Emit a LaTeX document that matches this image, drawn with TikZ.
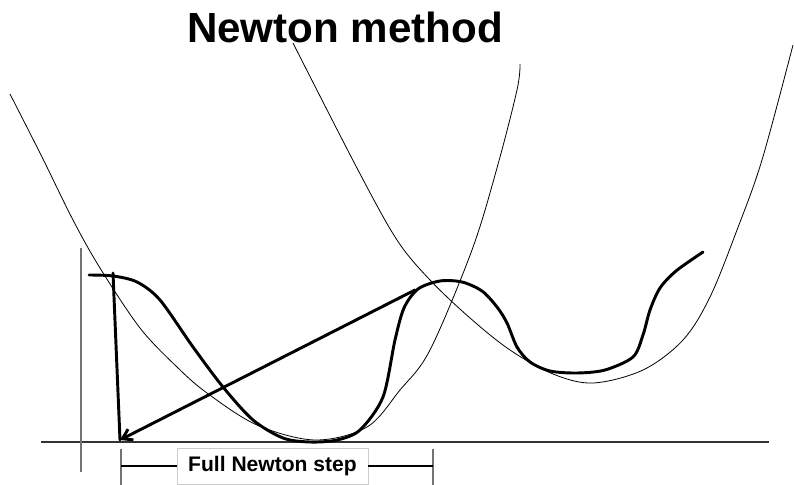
\documentclass[tikz,border=0pt]{standalone}
\usepackage{fontspec}
\setmainfont{Liberation Sans}
\usetikzlibrary{arrows.meta,positioning}

\begin{document}
\begin{tikzpicture}[x=0.75pt,y=-0.75pt,
  guess/.style={black,line width=0.6pt},
  func/.style={black,line width=2.2pt,line cap=round,line join=round},
  axis/.style={black!80,line width=0.8pt},
  tick/.style={black!55,line width=1pt},
  steplabel/.style={draw=black!20,fill=white,inner sep=0pt,minimum width=143pt,minimum height=27pt,font=\bfseries\fontsize{15.8}{18}\selectfont}]
\useasboundingbox (0,0) rectangle (794,485);
% Title
\node[anchor=base,font=\bfseries\fontsize{31.6}{36}\selectfont] (title) at (345,43) {Newton method};

% Axes
\coordinate (xa) at (41,442);
\coordinate (xb) at (769,442);
\coordinate (ya) at (81,248);
\coordinate (yb) at (81,472);
\draw[axis] (xa) -- (xb);
\draw[tick] (ya) -- (yb);

% Quadratic models
\draw[guess] plot[smooth,tension=0.55] coordinates {(10,94) (42,157) (73,220) (100,268) (140,328) (177,367) (207,393) (257,425) (315,440) (367,427) (400,390) (430,350) (472,250) (497,168) (517,90) (520,64)};
\draw[guess] plot[smooth,tension=0.55] coordinates {(293,43) (358,170) (397,240) (430,280) (470,318) (510,350) (553,374) (593,383) (643,370) (683,340) (710,297) (737,230) (762,160) (793,45)};

% Function
\draw[func] plot[smooth,tension=0.5] coordinates {(89,275) (113,276) (137,282) (160,300) (193,347) (223,387) (253,420) (283,438) (310,442) (337,440) (360,430) (383,397) (395,340) (404,308) (418,289) (440,281) (462,282) (482,291) (497,307) (507,323) (517,347) (530,362) (550,371) (577,373) (605,370) (633,357) (643,335) (650,310) (660,288) (676,271) (703,252)};

% Newton step
\coordinate (x0) at (113,273);
\coordinate (root) at (120,440);
\coordinate (peak) at (415,290);
\draw[func] (x0) -- (root);
\draw[func,-{Straight Barb[length=7pt,width=9pt]}] (peak) -- (root);

% Step width
\coordinate (ta) at (121,449);
\coordinate (tb) at (121,485);
\coordinate (tc) at (433,449);
\coordinate (td) at (433,485);
\draw[tick] (ta) -- (tb);
\draw[tick] (tc) -- (td);
\node[steplabel] (fullstep) at (272.5,466) {Full Newton step};
\coordinate (bl) at (121,466);
\coordinate (br) at (433,466);
\draw[line width=0.8pt] (bl) -- (fullstep.west);
\draw[line width=0.8pt] (fullstep.east) -- (br);
\end{tikzpicture}
\end{document}
